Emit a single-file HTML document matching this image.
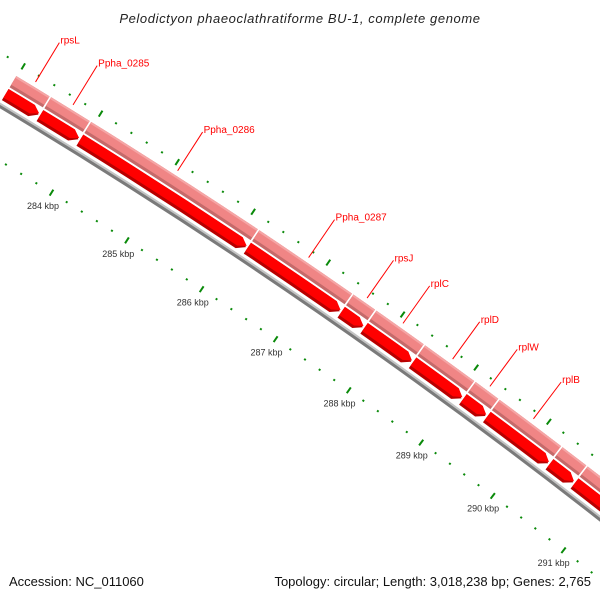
<!DOCTYPE html>
<html><head><meta charset="utf-8"><style>
html,body{margin:0;padding:0;background:#fff;}
svg{display:block;font-family:"Liberation Sans",sans-serif;}
</style></head><body>
<svg id="map" width="600" height="600" viewBox="0 0 600 600" xmlns="http://www.w3.org/2000/svg">
<rect width="600" height="600" fill="#fff"/>
<text x="300" y="23" text-anchor="middle" font-size="13" font-style="italic" fill="#222" letter-spacing="0.6">Pelodictyon phaeoclathratiforme BU-1, complete genome</text>
<text x="9" y="586" font-size="13" fill="#111">Accession: NC_011060</text>
<text x="591" y="586" text-anchor="end" font-size="13" fill="#111">Topology: circular; Length: 3,018,238 bp; Genes: 2,765</text>
<g id="ticks"></g>
<g id="backbone"></g>
<g id="genes"></g>
<g id="cds"></g>
<g id="labels"></g>
</svg>
<script>
const geneStarts = [282990, 283440, 283960, 286170, 287430, 287740, 288400, 289090, 289420, 290290, 290640];
const geneEnds   = [283420, 283940, 286150, 287410, 287720, 288380, 289070, 289400, 290270, 290620, 291600];
const geneNames  = ["rpsL", "Ppha_0285", "Ppha_0286", "Ppha_0287", "rpsJ", "rplC", "rplD", "rplW", "rplB", "", ""];
const tickStart = 282000, tickEnd = 292000, tickStep = 200, majorStep = 1000;

const NS = "http://www.w3.org/2000/svg";
const CX = -3039, CY = 5162, R = 5900;
const TH0 = -55.5 * Math.PI / 180, K = 0.874 * Math.PI / 180 / 1000;
function ang(bp){ return TH0 + (bp - 287000) * K; }
function pt(bp, r){ const a = ang(bp); return [CX + r * Math.cos(a), CY + r * Math.sin(a)]; }
function mk(tag, attrs, parent){ const e = document.createElementNS(NS, tag); for (const k in attrs) e.setAttribute(k, attrs[k]); parent.appendChild(e); return e; }
function f(v){ return v.toFixed(2); }
function band(b1, b2, r1, r2, arrow){
  const tipLen = 8 / R / K;
  const e2 = arrow ? Math.max(b1, b2 - tipLen) : b2;
  const a = pt(b1, r2), b = pt(e2, r2), c = pt(e2, r1), d = pt(b1, r1);
  let p = "M" + f(a[0]) + "," + f(a[1]) + " A" + (r2) + "," + (r2) + " 0 0 1 " + f(b[0]) + "," + f(b[1]);
  if (arrow){ const t = pt(b2, (r1 + r2) / 2); p += " L" + f(t[0]) + "," + f(t[1]); }
  p += " L" + f(c[0]) + "," + f(c[1]) + " A" + r1 + "," + r1 + " 0 0 0 " + f(d[0]) + "," + f(d[1]) + " Z";
  return p;
}
const gT = document.getElementById("ticks");
for (let bp = tickStart; bp <= tickEnd; bp += tickStep){
  const major = bp % majorStep === 0;
  const half = major ? 3.5 : 1;
  [R + 45, R - 48].forEach(function(rr){
    const p1 = pt(bp, rr - half), p2 = pt(bp, rr + half);
    const l = mk("line", {x1: f(p1[0]), y1: f(p1[1]), x2: f(p2[0]), y2: f(p2[1]), stroke: "#0a8a0a", "stroke-width": 2}, gT);
    
    
  });
  if (major){
    const lp = pt(bp, R - 64);
    const t = mk("text", {x: f(lp[0]), y: f(lp[1] + 3), "text-anchor": "middle", "font-size": 9, fill: "#333"}, gT);
    t.textContent = (bp / 1000) + " kbp";
    
    
  }
}
const gB = document.getElementById("backbone");
const bb1 = mk("path", {d: band(tickStart, tickEnd, R - 3, R + 1, false), fill: "#7a7a7a"}, gB);


const bb2 = mk("path", {d: band(tickStart, tickEnd, R, R + 2, false), fill: "#c4c4c4"}, gB);


const gG = document.getElementById("genes"), gC = document.getElementById("cds"), gL = document.getElementById("labels");
for (let i = 0; i < geneStarts.length; i++){
  const s = geneStarts[i], e = geneEnds[i];
  const g1 = mk("path", {d: band(s, e, R + 20, R + 33, false), fill: "#c46a6a"}, gG);
  
  
  const g2 = mk("path", {d: band(s, e, R + 23, R + 33, false), fill: "#f08585"}, gG);
  
  
  const g3 = mk("path", {d: band(s, e, R + 31, R + 33, false), fill: "#f5a5a5"}, gG);
  
  
  const c1 = mk("path", {d: band(s, e, R + 5, R + 18, true), fill: "#b80000"}, gC);
  
  
  const c2 = mk("path", {d: band(s, e, R + 8, R + 18, true), fill: "#ff0000"}, gC);
  
  
  if (geneNames[i]){
    const mid = (s + e) / 2;
    const a = pt(mid, R + 38), b = pt(mid, R + 84);
    const ln = mk("line", {x1: f(a[0]), y1: f(a[1]), x2: f(b[0]), y2: f(b[1]), stroke: "#ff0000", "stroke-width": 1}, gL);
    
    
    const t = mk("text", {x: f(b[0] + 1), y: f(b[1] + 1), "font-size": 10, fill: "#ff0000"}, gL);
    t.textContent = geneNames[i];
    
    
  }
}
</script>
</body></html>
